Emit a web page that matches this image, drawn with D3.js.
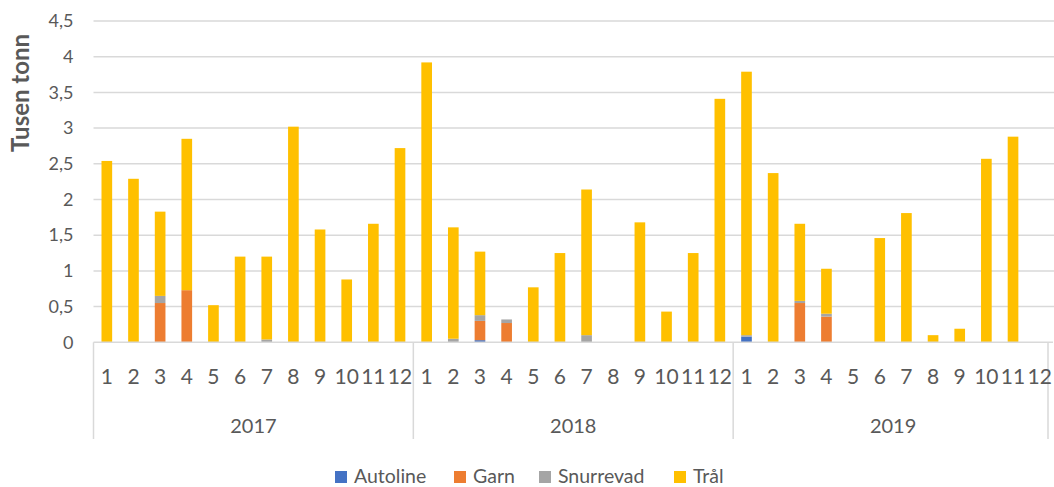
<!DOCTYPE html>
<html>
<head>
<meta charset="utf-8">
<script src="https://cdn.jsdelivr.net/npm/d3@7"></script>
<style>
  body { margin: 0; background: #fff; }
  svg text { font-family: Lato, "Open Sans", sans-serif; fill: #595959; }
</style>
</head>
<body>
<div id="chart"></div>
<script>
// Data (tusen tonn)
var years = ["2017", "2018", "2019"];
var months = ["1", "2", "3", "4", "5", "6", "7", "8", "9", "10", "11", "12"];
var seriesNames = ["Autoline", "Garn", "Snurrevad", "Trål"];
var colors = ["#4472C4", "#ED7D31", "#A5A5A5", "#FFC000"];

var autoline = [0, 0, 0, 0, 0, 0, 0, 0, 0, 0, 0, 0,
                0, 0, 0.03, 0, 0, 0, 0, 0, 0, 0, 0, 0,
                0.08, 0, 0, 0, 0, 0, 0, 0, 0, 0, 0, 0];
var garn = [0, 0, 0.55, 0.73, 0, 0, 0, 0, 0, 0, 0, 0,
            0, 0, 0.27, 0.27, 0, 0, 0, 0, 0, 0, 0, 0,
            0, 0, 0.55, 0.36, 0, 0, 0, 0, 0, 0, 0, 0];
var snurrevad = [0, 0, 0.10, 0, 0, 0, 0.04, 0, 0, 0, 0, 0,
                 0, 0.05, 0.08, 0.05, 0, 0, 0.10, 0, 0, 0, 0, 0,
                 0.02, 0, 0.03, 0.04, 0, 0, 0, 0, 0, 0, 0, 0];
var tral = [2.54, 2.29, 1.18, 2.12, 0.52, 1.20, 1.16, 3.02, 1.58, 0.88, 1.66, 2.72,
            3.92, 1.56, 0.89, 0, 0.77, 1.25, 2.04, 0, 1.68, 0.43, 1.25, 3.41,
            3.69, 2.37, 1.08, 0.63, 0, 1.46, 1.81, 0.10, 0.19, 2.57, 2.88, 0];
var yTicks = [0, 0.5, 1, 1.5, 2, 2.5, 3, 3.5, 4, 4.5];

// build rows for the stack
var rows = [];
years.forEach(function(yr, yi) {
  months.forEach(function(m, mi) {
    var i = yi * 12 + mi;
    rows.push({ key: yr + "-" + m, year: yr, month: m,
      "Autoline": autoline[i], "Garn": garn[i], "Snurrevad": snurrevad[i], "Trål": tral[i] });
  });
});

var width = 1054, height = 487;
var plotLeft = 93.5, plotRight = 1053, plotTop = 21, plotBottom = 342.3;

var svg = d3.select("#chart").append("svg")
    .attr("width", width)
    .attr("height", height);

var x = d3.scaleBand()
    .domain(rows.map(function(d) { return d.key; }))
    .range([plotLeft, plotRight])
    .paddingInner(0.6)
    .paddingOuter(0.3);

var yearScale = d3.scaleBand()
    .domain(years)
    .range([plotLeft, plotRight]);

var y = d3.scaleLinear()
    .domain([0, 4.5])
    .range([plotBottom, plotTop]);

var fmt = function(v) { return String(v).replace(".", ","); };

// gridlines
svg.append("g")
  .selectAll("line")
  .data(yTicks.slice(1))
  .enter().append("line")
    .attr("x1", plotLeft)
    .attr("x2", width)
    .attr("y1", function(d) { return y(d); })
    .attr("y2", function(d) { return y(d); })
    .attr("stroke", "#d9d9d9")
    .attr("stroke-width", 1.5);

// y axis labels
var yAxis = svg.append("g")
    .attr("transform", "translate(" + (plotLeft - 14) + ",0)")
    .call(d3.axisLeft(y).tickValues(yTicks).tickSize(0).tickFormat(fmt));
yAxis.select(".domain").remove();
yAxis.selectAll("text")
    .attr("x", -6)
    .style("font-size", "18px")
    .style("fill", "#595959");

svg.append("text")
    .attr("transform", "rotate(-90)")
    .attr("x", -93)
    .attr("y", 29)
    .style("text-anchor", "middle")
    .style("font-size", "24px")
    .style("font-weight", "bold")
    .text("Tusen tonn");

// stacked bars
var stack = d3.stack().keys(seriesNames);
var layers = stack(rows);

svg.append("g")
  .selectAll("g")
  .data(layers)
  .enter().append("g")
    .attr("fill", function(d, i) { return colors[i]; })
  .selectAll("rect")
  .data(function(d) { return d; })
  .enter().append("rect")
    .attr("x", function(d) { return x(d.data.key); })
    .attr("width", x.bandwidth())
    .attr("y", function(d) { return y(d[1]); })
    .attr("height", function(d) { return y(d[0]) - y(d[1]); });

// category axis: baseline and year dividers
svg.append("line")
    .attr("x1", plotLeft).attr("x2", plotRight)
    .attr("y1", plotBottom).attr("y2", plotBottom)
    .attr("stroke", "#d9d9d9").attr("stroke-width", 1.5);

var dividers = years.map(function(d) { return yearScale(d); }).concat([plotRight - 5]);
svg.append("g")
  .selectAll("line")
  .data(dividers)
  .enter().append("line")
    .attr("x1", function(d) { return d; })
    .attr("x2", function(d) { return d; })
    .attr("y1", plotBottom)
    .attr("y2", 439)
    .attr("stroke", "#d9d9d9")
    .attr("stroke-width", 1.5);

// month labels
svg.append("g")
  .selectAll("text")
  .data(rows)
  .enter().append("text")
    .attr("x", function(d) { return x(d.key) + x.bandwidth() / 2; })
    .attr("y", 384)
    .style("text-anchor", "middle")
    .style("font-size", "21px")
    .text(function(d) { return d.month; });

// year labels
svg.append("g")
  .selectAll("text")
  .data(years)
  .enter().append("text")
    .attr("x", function(d) { return yearScale(d) + yearScale.bandwidth() / 2; })
    .attr("y", 433)
    .style("text-anchor", "middle")
    .style("font-size", "20px")
    .text(function(d) { return d; });

// legend
var legendX = [335, 454, 539, 674];
var legend = svg.append("g")
  .selectAll("g")
  .data(seriesNames)
  .enter().append("g")
    .attr("transform", function(d, i) { return "translate(" + legendX[i] + ",471)"; });

legend.append("rect")
    .attr("width", 12)
    .attr("height", 12)
    .attr("fill", function(d, i) { return colors[i]; });

legend.append("text")
    .attr("x", 19)
    .attr("y", 11.5)
    .style("font-size", "19.5px")
    .text(function(d) { return d; });
</script>
</body>
</html>
